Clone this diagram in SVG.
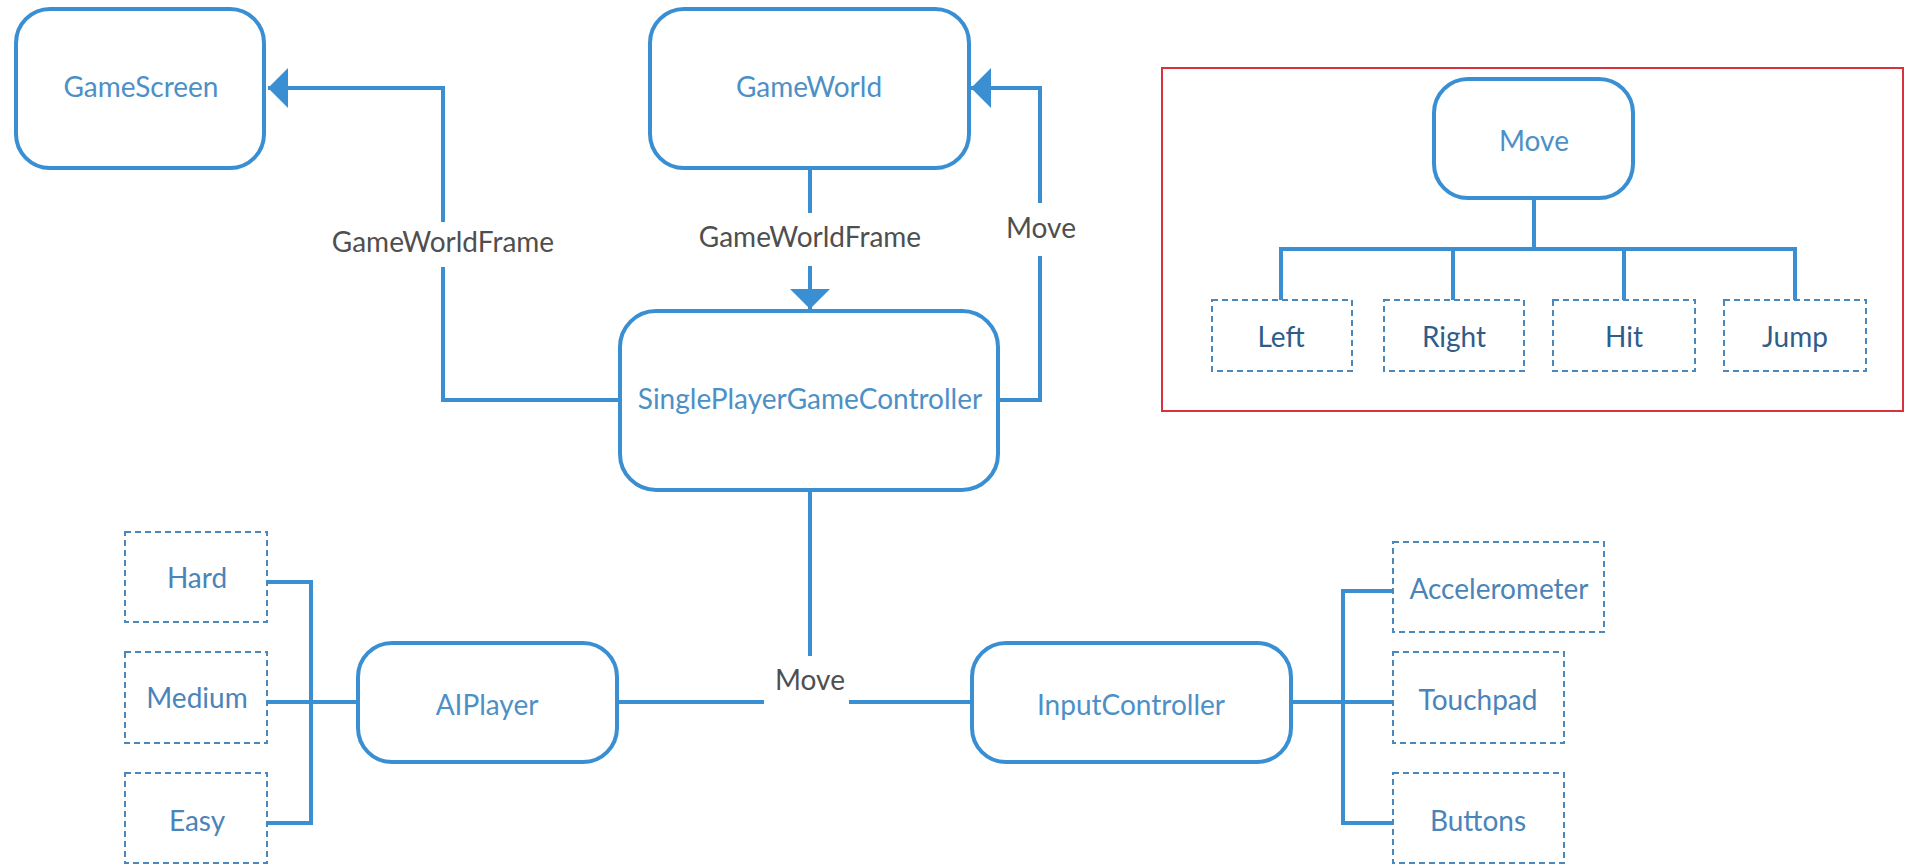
<svg xmlns="http://www.w3.org/2000/svg" width="1905" height="868" viewBox="0 0 1905 868">
<defs>
<style>
.node{fill:#fff;stroke:#3a8fd2;stroke-width:4}
.opt{fill:#fff;stroke:#4a87ba;stroke-width:2;stroke-dasharray:6 4}
.ln{fill:none;stroke:#3a8fd2;stroke-width:4}
.t{font-family:Lato,"Liberation Sans",sans-serif;font-size:28px;text-anchor:middle;dominant-baseline:central}
.tn{fill:#4d90c6}
.to{fill:#4a84b8}
.td{fill:#2f5d8a}
.tl{fill:#4f4f4f}
</style>
<marker id="ah" markerWidth="20" markerHeight="40" refX="20" refY="20" orient="auto" markerUnits="userSpaceOnUse">
<path d="M0,0 L20,20 L0,40 Z" fill="#3a8fd2"/>
</marker>
</defs>
<rect width="1905" height="868" fill="#fff"/>
<g id="connectors">
<polyline class="ln" points="618,400 443,400 443,267"/>
<polyline class="ln" points="443,222 443,88 268,88" marker-end="url(#ah)"/>
<line class="ln" x1="810" y1="168" x2="810" y2="213"/>
<line class="ln" x1="810" y1="266" x2="810" y2="309" marker-end="url(#ah)"/>
<polyline class="ln" points="998,400 1040,400 1040,256"/>
<polyline class="ln" points="1040,203 1040,88 971,88" marker-end="url(#ah)"/>
<line class="ln" x1="810" y1="490" x2="810" y2="656"/>
<line class="ln" x1="617" y1="702" x2="764" y2="702"/>
<line class="ln" x1="849" y1="702" x2="972" y2="702"/>
<polyline class="ln" points="267,582 311,582 311,823 267,823"/>
<line class="ln" x1="267" y1="702" x2="358" y2="702"/>
<line class="ln" x1="1291" y1="702" x2="1393" y2="702"/>
<polyline class="ln" points="1393,591 1343,591 1343,823 1393,823"/>
<line class="ln" x1="1534" y1="198" x2="1534" y2="249"/>
<polyline class="ln" points="1281,300 1281,249 1795,249 1795,300"/>
<line class="ln" x1="1453" y1="249" x2="1453" y2="300"/>
<line class="ln" x1="1624" y1="249" x2="1624" y2="300"/>
<text class="t tl" x="443" y="241">GameWorldFrame</text>
<text class="t tl" x="810" y="236">GameWorldFrame</text>
<text class="t tl" x="1041" y="227">Move</text>
<text class="t tl" x="810" y="679">Move</text>
</g>
<rect x="1162" y="68" width="741" height="343" fill="none" stroke="#d8323c" stroke-width="2"/>
<g id="GameScreen"><rect class="node" x="16" y="9" width="248" height="159" rx="34"/><text class="t tn" x="141" y="86">GameScreen</text></g>
<g id="GameWorld"><rect class="node" x="650" y="9" width="319" height="159" rx="34"/><text class="t tn" x="809" y="86">GameWorld</text></g>
<g id="SinglePlayerGameController"><rect class="node" x="620" y="311" width="378" height="179" rx="36"/><text class="t tn" x="810" y="398">SinglePlayerGameController</text></g>
<g id="AIPlayer"><rect class="node" x="358" y="643" width="259" height="119" rx="34"/><text class="t tn" x="487" y="704">AIPlayer</text></g>
<g id="InputController"><rect class="node" x="972" y="643" width="319" height="119" rx="34"/><text class="t tn" x="1131" y="704">InputController</text></g>
<g id="Hard"><rect class="opt" x="125" y="532" width="142" height="90"/><text class="t to" x="197" y="577">Hard</text></g>
<g id="Medium"><rect class="opt" x="125" y="652" width="142" height="91"/><text class="t to" x="197" y="697">Medium</text></g>
<g id="Easy"><rect class="opt" x="125" y="773" width="142" height="90"/><text class="t to" x="197" y="820">Easy</text></g>
<g id="Accelerometer"><rect class="opt" x="1393" y="542" width="211" height="90"/><text class="t to" x="1499" y="588">Accelerometer</text></g>
<g id="Touchpad"><rect class="opt" x="1393" y="652" width="171" height="91"/><text class="t to" x="1478" y="699">Touchpad</text></g>
<g id="Buttons"><rect class="opt" x="1393" y="773" width="171" height="90"/><text class="t to" x="1478" y="820">Buttons</text></g>
<g id="Move"><rect class="node" x="1434" y="79" width="199" height="119" rx="34"/><text class="t tn" x="1534" y="140">Move</text></g>
<g id="Left"><rect class="opt" x="1212" y="300" width="140" height="71"/><text class="t td" x="1281" y="336">Left</text></g>
<g id="Right"><rect class="opt" x="1384" y="300" width="140" height="71"/><text class="t td" x="1454" y="336">Right</text></g>
<g id="Hit"><rect class="opt" x="1553" y="300" width="142" height="71"/><text class="t td" x="1624" y="336">Hit</text></g>
<g id="Jump"><rect class="opt" x="1724" y="300" width="142" height="71"/><text class="t td" x="1795" y="336">Jump</text></g>
</svg>
